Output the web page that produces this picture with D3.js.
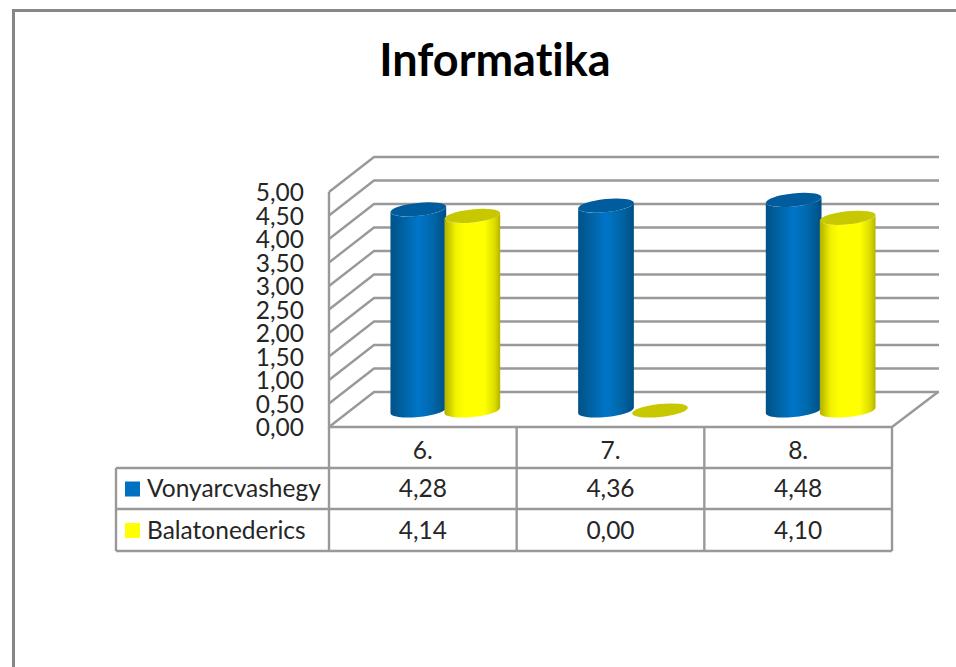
<!DOCTYPE html>
<html>
<head>
<meta charset="utf-8">
<script src="https://cdnjs.cloudflare.com/ajax/libs/d3/7.8.5/d3.min.js"></script>
<style>
html, body { margin: 0; padding: 0; background: #fff; }
svg { display: block; }
text { font-family: Lato, "Open Sans", sans-serif; fill: #262626; font-variant-ligatures: none; }
</style>
</head>
<body>
<div id="chart"></div>
<script>
var categories = ["6.", "7.", "8."];
var seriesNames = ["Vonyarcvashegy", "Balatonederics"];
var vonyarcvashegy = [4.28, 4.36, 4.48];
var balatonederics = [4.14, 0.00, 4.10];
var tickValues = [0, 0.5, 1, 1.5, 2, 2.5, 3, 3.5, 4, 4.5, 5];

var width = 956, height = 667;
var left = 329, right = 892, floorY = 427, topY = 192;
var depthX = 45, depthY = -35;
var barLift = -16.5;
var rowY = [427, 468, 509, 551], tableLeft = 116;
var gridColor = "#999";
var labelSize = "24.5px";

var fmt = function(v) { return v.toFixed(2).replace(".", ","); };

var x = d3.scaleBand().domain(categories).range([left, right]);
var y = d3.scaleLinear().domain([0, 5]).range([floorY, topY]);
var inner = d3.scaleBand().domain(seriesNames).range([-54, 54]);

var series = [
    {name: seriesNames[0], values: vonyarcvashegy, id: "blue", cap: "#005c9c", key: "#0070c0",
        stops: [[0, "#005288"], [0.2, "#00609f"], [0.5, "#0075c9"], [0.75, "#0067ab"], [1, "#004f84"]]},
    {name: seriesNames[1], values: balatonederics, id: "yellow", cap: "#c8c800", key: "#ffff00",
        stops: [[0, "#b0b000"], [0.2, "#f2f200"], [0.35, "#ffff00"], [0.72, "#ffff00"], [0.9, "#dcdc00"], [1, "#b4b400"]]}
];

var svg = d3.select("#chart").append("svg")
    .attr("width", width)
    .attr("height", height);

// horizontal shading of the cylinders
var defs = svg.append("defs");
series.forEach(function(s) {
    var g = defs.append("linearGradient").attr("id", "grad-" + s.id);
    s.stops.forEach(function(d) {
        g.append("stop").attr("offset", d[0]).attr("stop-color", d[1]);
    });
});

// outer frame, only top and left show
svg.append("path")
    .attr("d", "M13.5," + height + "V10.5H" + width)
    .attr("fill", "none")
    .attr("stroke", "#868686")
    .attr("stroke-width", 3);

// walls
var walls = svg.append("g")
    .attr("fill", "none")
    .attr("stroke", gridColor)
    .attr("stroke-width", 2.4);

walls.selectAll("path.grid")
    .data(tickValues)
    .enter().append("path")
    .attr("class", "grid")
    .attr("d", function(d) {
        return "M" + left + "," + y(d) + "L" + (left + depthX) + "," + (y(d) + depthY) + "H" + (right + depthX + 2);
    });

walls.append("path")
    .attr("d", "M" + left + "," + topY + "V" + floorY + "H" + right + "L" + (right + depthX + 1) + "," + (floorY + depthY));

// cylinders
var rx = 28, ry = 6.5, tilt = -6;
var th = tilt * Math.PI / 180;
var tt = Math.atan(-(ry / rx) * Math.tan(th));
var sideX = rx * Math.cos(tt) * Math.cos(th) - ry * Math.sin(tt) * Math.sin(th);
var sideY = rx * Math.cos(tt) * Math.sin(th) + ry * Math.sin(tt) * Math.cos(th);

function bodyPath(cx, yTop, yBot) {
    return "M" + (cx - sideX) + "," + (yTop - sideY) +
        "V" + (yBot - sideY) +
        "A" + rx + "," + ry + " " + tilt + " 0 0 " + (cx + sideX) + "," + (yBot + sideY) +
        "V" + (yTop + sideY) +
        "A" + rx + "," + ry + " " + tilt + " 0 1 " + (cx - sideX) + "," + (yTop - sideY) + "Z";
}

var barCenter = function(cat, name) {
    return x(cat) + x.bandwidth() / 2 + depthX / 2 + inner(name) + inner.bandwidth() / 2;
};

categories.forEach(function(cat, i) {
    var group = svg.append("g").attr("class", "cat");
    series.forEach(function(s) {
        var v = s.values[i];
        var cx = barCenter(cat, s.name);
        var yTop = y(v) + barLift, yBot = y(0) + barLift;
        if (v > 0) {
            group.append("path")
                .attr("d", bodyPath(cx, yTop, yBot))
                .attr("fill", "url(#grad-" + s.id + ")");
        }
        group.append("ellipse")
            .attr("rx", rx)
            .attr("ry", ry)
            .attr("transform", "translate(" + cx + "," + yTop + ")rotate(" + tilt + ")")
            .attr("fill", s.cap);
    });
});

// value axis
var yAxis = svg.append("g")
    .attr("transform", "translate(304,0)")
    .call(d3.axisLeft(y).tickValues(tickValues).tickFormat(fmt).tickSize(0).tickPadding(0));
yAxis.select(".domain").remove();
yAxis.selectAll("text")
    .style("font-size", labelSize)
    .attr("dy", "0.36em");

// data table
var table = svg.append("g")
    .attr("fill", "none")
    .attr("stroke", gridColor)
    .attr("stroke-width", 2.4);

table.selectAll("path.row")
    .data(rowY.slice(1))
    .enter().append("path")
    .attr("class", "row")
    .attr("d", function(d) { return "M" + tableLeft + "," + d + "H" + right; });

table.append("path")
    .attr("d", "M" + tableLeft + "," + rowY[1] + "V" + rowY[3]);

table.selectAll("path.col")
    .data(categories.concat(["end"]))
    .enter().append("path")
    .attr("class", "col")
    .attr("d", function(d) {
        var px = d === "end" ? right : x(d);
        return "M" + px + "," + floorY + "V" + rowY[3];
    });

var midRow = function(r) { return (rowY[r] + rowY[r + 1]) / 2; };

svg.selectAll("text.cat-label")
    .data(categories)
    .enter().append("text")
    .attr("class", "cat-label")
    .attr("x", function(d) { return x(d) + x.bandwidth() / 2; })
    .attr("y", midRow(0) + 3)
    .attr("dy", "0.36em")
    .attr("text-anchor", "middle")
    .style("font-size", labelSize)
    .text(function(d) { return d; });

series.forEach(function(s, r) {
    var cy = midRow(r + 1);
    svg.append("rect")
        .attr("x", 125)
        .attr("y", cy - 7)
        .attr("width", 15)
        .attr("height", 15)
        .attr("fill", s.key);
    svg.append("text")
        .attr("x", 147)
        .attr("y", cy)
        .attr("dy", "0.36em")
        .style("font-size", labelSize)
        .text(s.name);
    svg.selectAll("text.val-" + s.id)
        .data(s.values)
        .enter().append("text")
        .attr("class", "val-" + s.id)
        .attr("x", function(d, i) { return x(categories[i]) + x.bandwidth() / 2; })
        .attr("y", cy)
        .attr("dy", "0.36em")
        .attr("text-anchor", "middle")
        .style("font-size", labelSize)
        .text(fmt);
});

// title
svg.append("text")
    .attr("x", 495)
    .attr("y", 76)
    .attr("text-anchor", "middle")
    .style("font-size", "45px")
    .style("font-weight", "700")
    .style("fill", "#000")
    .text("Informatika");
</script>
</body>
</html>
